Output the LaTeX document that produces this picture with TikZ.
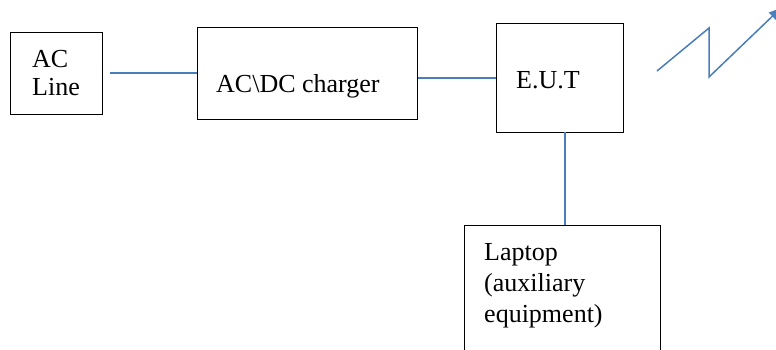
\documentclass[tikz,border=0pt]{standalone}
\usepackage{fontspec}
\setmainfont{Liberation Serif}
\usetikzlibrary{arrows.meta}
\definecolor{wire}{HTML}{4A7EBB}
\begin{document}
\begin{tikzpicture}[x=1pt,y=-1pt,
  box/.style={draw=black,line width=1.1pt,inner sep=0pt,anchor=north west},
  lbl/.style={anchor=base west,inner sep=0pt,font=\fontsize{26}{30}\selectfont,align=left},
  wireline/.style={draw=wire,line width=1.5pt}]
\useasboundingbox (0,0) rectangle (776,349);
\clip (0,0) rectangle (776,349);
\node[box,minimum width=92pt,minimum height=82pt] (acline) at (10,32) {};
\node[box,minimum width=220pt,minimum height=92pt] (charger) at (197,27) {};
\node[box,minimum width=127pt,minimum height=109pt] (eut) at (496,23) {};
\node[box,minimum width=196pt,minimum height=140pt] (laptop) at (464,225) {};
\node[lbl] (t1) at (32,67) {AC};
\node[lbl] (t2) at (32,95) {Line};
\node[lbl] (t3) at (216,92) {AC\textbackslash DC charger};
\node[lbl] (t4) at (516,88) {E.U.T};
\node[lbl] (t5) at (484,260) {Laptop};
\node[lbl] (t6) at (484,291) {(auxiliary};
\node[lbl] (t7) at (484,322) {equipment)};
\coordinate (a0) at (110,73);
\coordinate (v0) at (565,132);
\coordinate (z0) at (657,71);
\coordinate (z1) at (709,28);
\coordinate (z2) at (709,77);
\coordinate (z3) at (781,8);
\draw[wireline] (a0) -- (a0 -| charger.west);
\draw[wireline] (charger.east |- eut.west) -- (eut.west);
\draw[wireline] (v0) -- (v0 |- laptop.north);
\draw[wireline,-{Triangle[length=12pt,width=10pt]}] (z0) -- (z1) -- (z2) -- (z3);
\end{tikzpicture}
\end{document}
